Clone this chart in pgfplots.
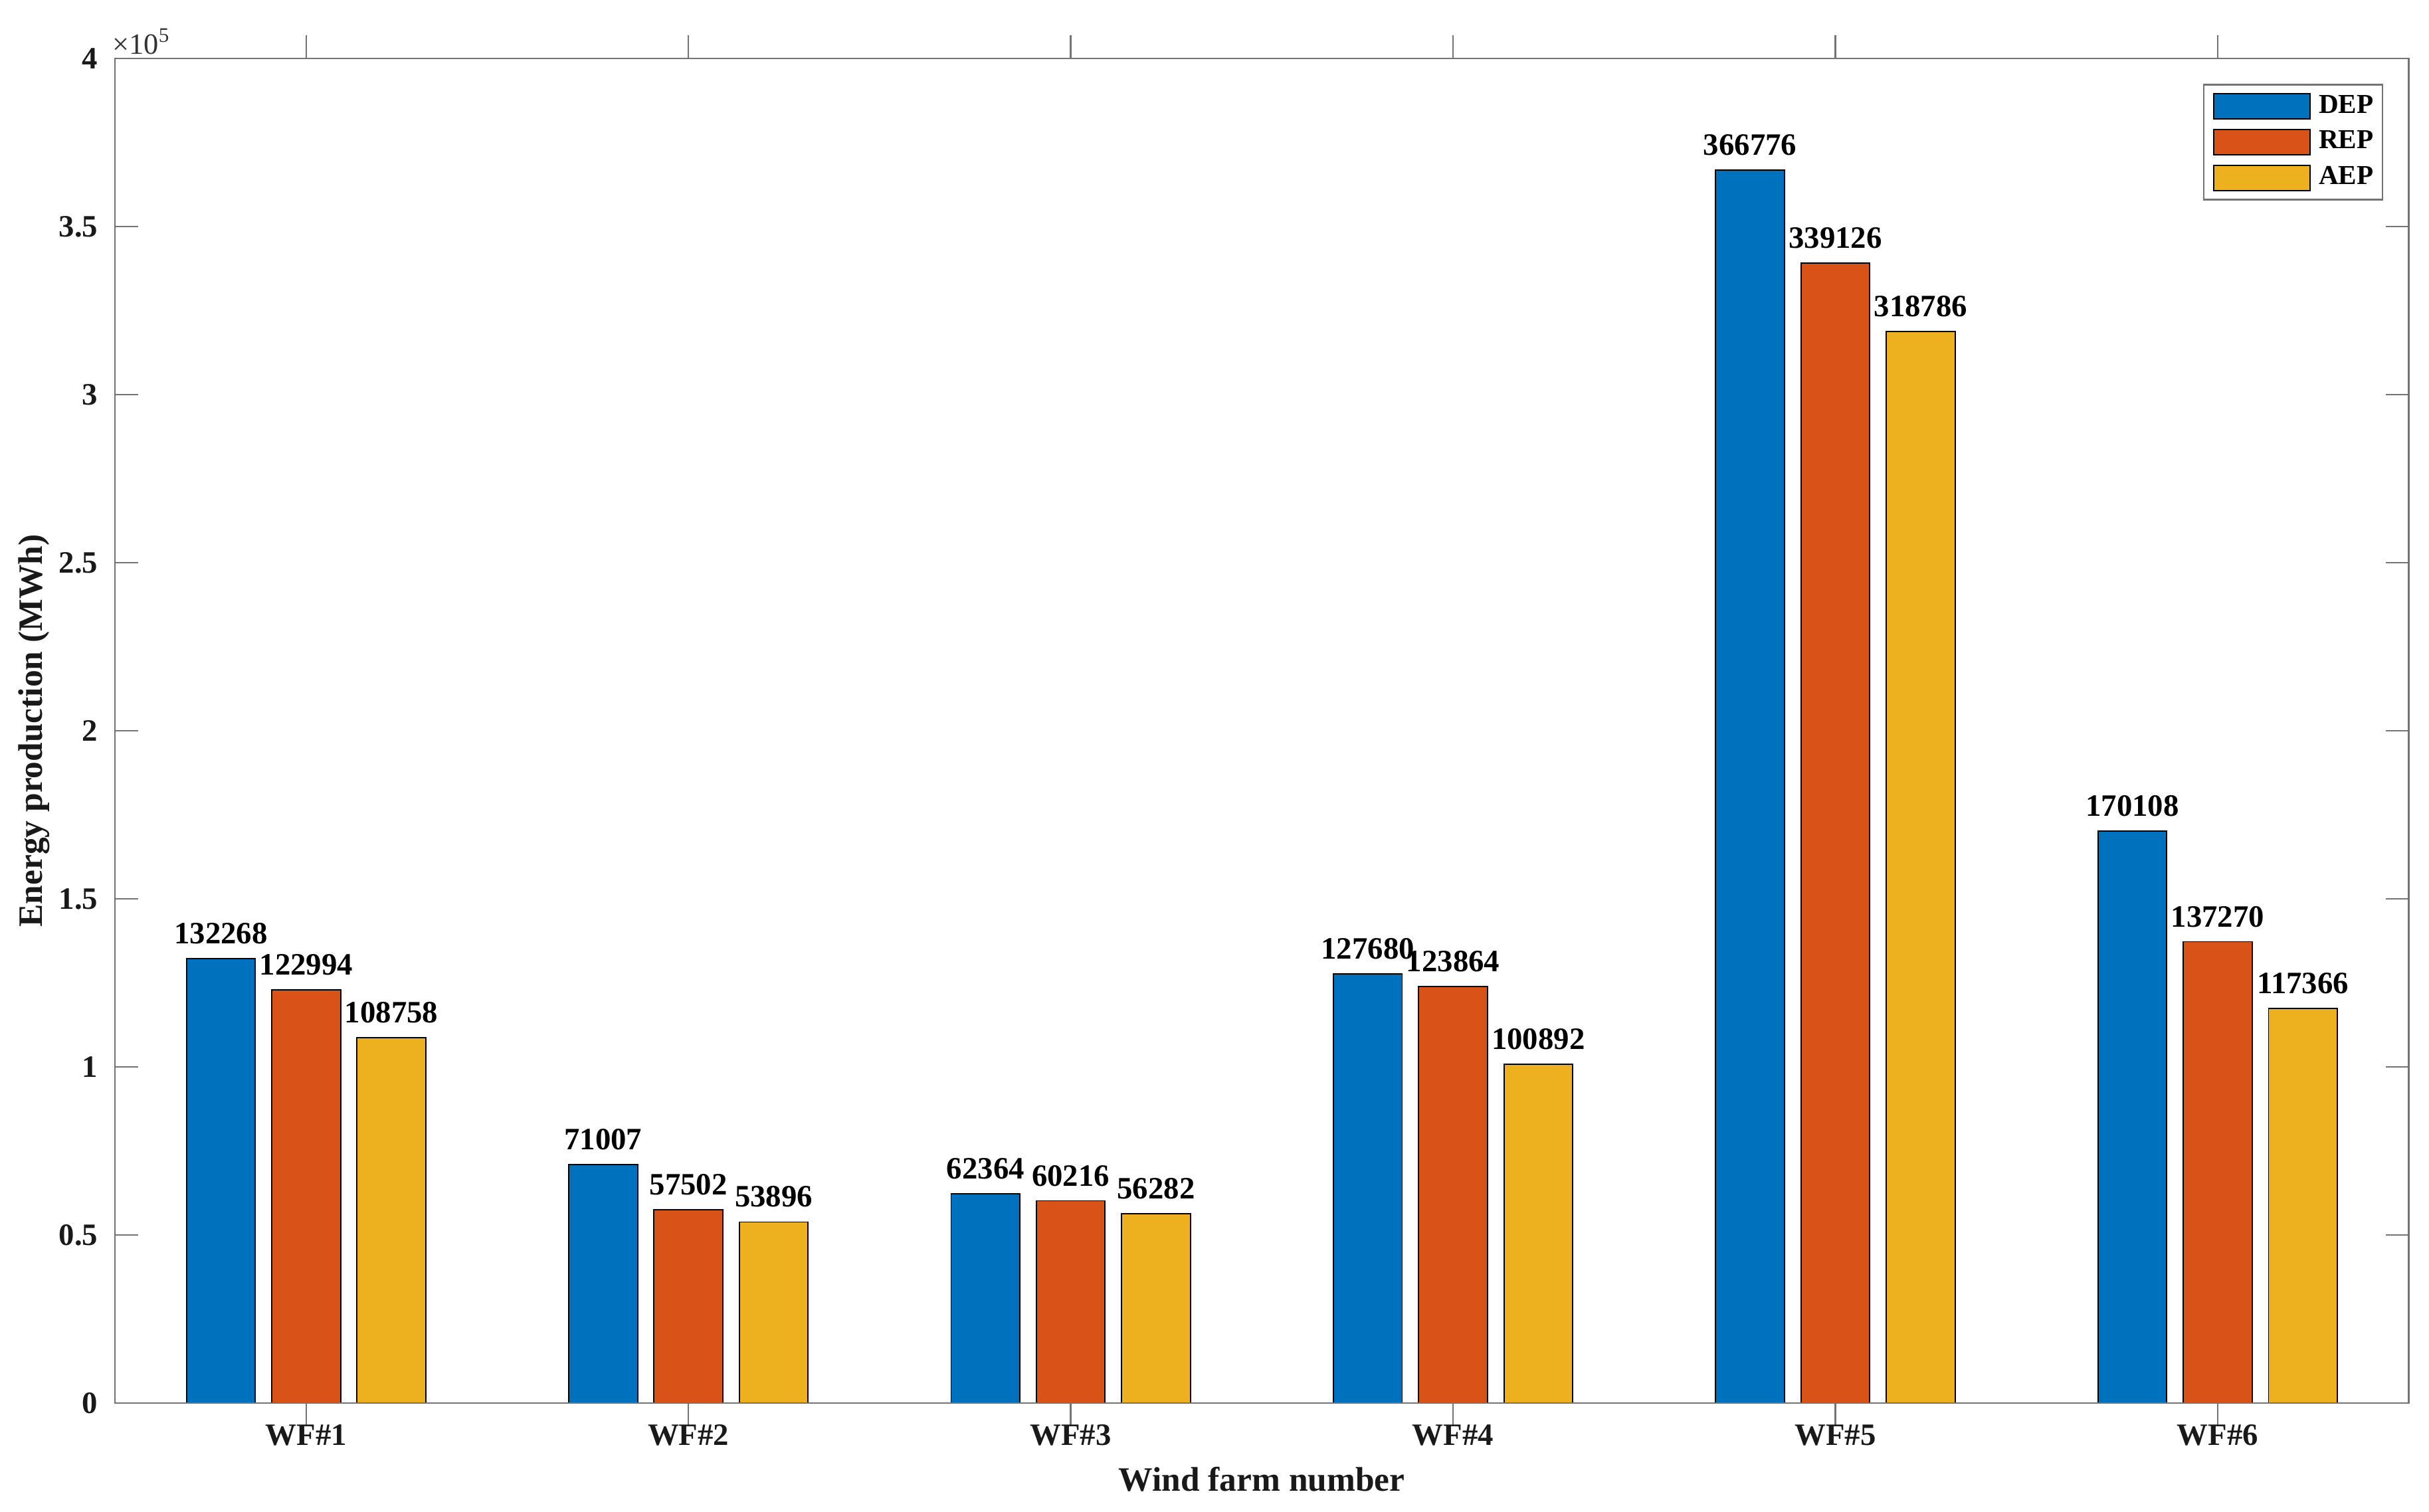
\documentclass[border=0pt]{standalone}
\usepackage{fontspec}
\setmainfont{Liberation Serif}
\usepackage{pgfplots}
\pgfplotsset{compat=1.18}

% MATLAB default bar colours
\definecolor{mblue}{RGB}{0,114,189}
\definecolor{morange}{RGB}{217,83,25}
\definecolor{myellow}{RGB}{237,177,32}
\definecolor{axgray}{gray}{0.45}

\pgfplotsset{
  boxleg/.style={legend image code/.code={%
    \draw[##1,draw=black,line width=0.4pt] (0pt,-4.1pt) rectangle (31pt,4.1pt);}},
}

\begin{document}
\begin{tikzpicture}
\begin{axis}[
    scale only axis,
    width=738pt, height=432.7pt,
    xmin=0.5, xmax=6.5,
    ymin=0, ymax=400000,
    xtick={1,2,3,4,5,6},
    xticklabels={WF\#1,WF\#2,WF\#3,WF\#4,WF\#5,WF\#6},
    ytick={0,50000,100000,150000,200000,250000,300000,350000,400000},
    scaled y ticks=base 10:-5,
    ytick scale label code/.code={{\mdseries ×10\textsuperscript{5}}},
    every y tick scale label/.style={at={(rel axis cs:0,1)}, anchor=south west,
        inner sep=1pt, font=\fontsize{9.5}{11}\selectfont, text=black!80},
    /pgf/number format/assume math mode=true,
    ticklabel style={font=\bfseries\fontsize{10}{12}\selectfont, text=black!90},
    xticklabel style={yshift=4pt},
    yticklabel style={xshift=-2pt},
    axis line style={axgray, line width=0.5pt},
    every tick/.style={axgray, line width=0.5pt},
    major tick length=7.4pt,
    tick align=inside,
    axis on top,
    ybar,
    bar width=0.18,
    xlabel={Wind farm number},
    ylabel={Energy production (MWh)},
    every axis x label/.style={at={(rel axis cs:0.5,0)}, yshift=-24.5pt, anchor=center,
        font=\bfseries\fontsize{11}{13}\selectfont, text=black!90},
    every axis y label/.style={at={(rel axis cs:0,0.5)}, xshift=-26pt, rotate=90, anchor=center,
        font=\bfseries\fontsize{11}{13}\selectfont, text=black!90},
    nodes near coords={\pgfmathprintnumber[fixed,precision=0,1000 sep={},assume math mode=true]{\pgfplotspointmeta}},
    every node near coord/.append style={font=\bfseries\fontsize{10}{12}\selectfont,
        text=black, anchor=south, inner sep=0pt, yshift=4.5pt},
    legend style={at={(1,1)}, anchor=north east, xshift=-8.2pt, yshift=-8.2pt,
        draw=axgray, line width=0.5pt, fill=white,
        font=\bfseries\fontsize{8.8}{10}\selectfont,
        inner xsep=2.9pt, inner ysep=2.7pt, row sep=2.9pt, column sep=2.7pt,
        nodes={inner sep=0pt}},
    legend cell align=left,
]
\addplot[fill=mblue, draw=black, line width=0.4pt, bar shift=-0.223, boxleg] coordinates {
    (1,132268) (2,71007) (3,62364) (4,127680) (5,366776) (6,170108)
};
\addplot[fill=morange, draw=black, line width=0.4pt, bar shift=0, boxleg] coordinates {
    (1,122994) (2,57502) (3,60216) (4,123864) (5,339126) (6,137270)
};
\addplot[fill=myellow, draw=black, line width=0.4pt, bar shift=0.223, boxleg] coordinates {
    (1,108758) (2,53896) (3,56282) (4,100892) (5,318786) (6,117366)
};
\legend{DEP, REP, AEP}
\end{axis}
% page margins as in the reference
\path (current axis.south west) ++(-37pt,-35pt) coordinate (bl);
\path (current axis.north east) ++(6.5pt,18.8pt) coordinate (tr);
\path (bl) rectangle (tr);
\end{tikzpicture}
\end{document}
